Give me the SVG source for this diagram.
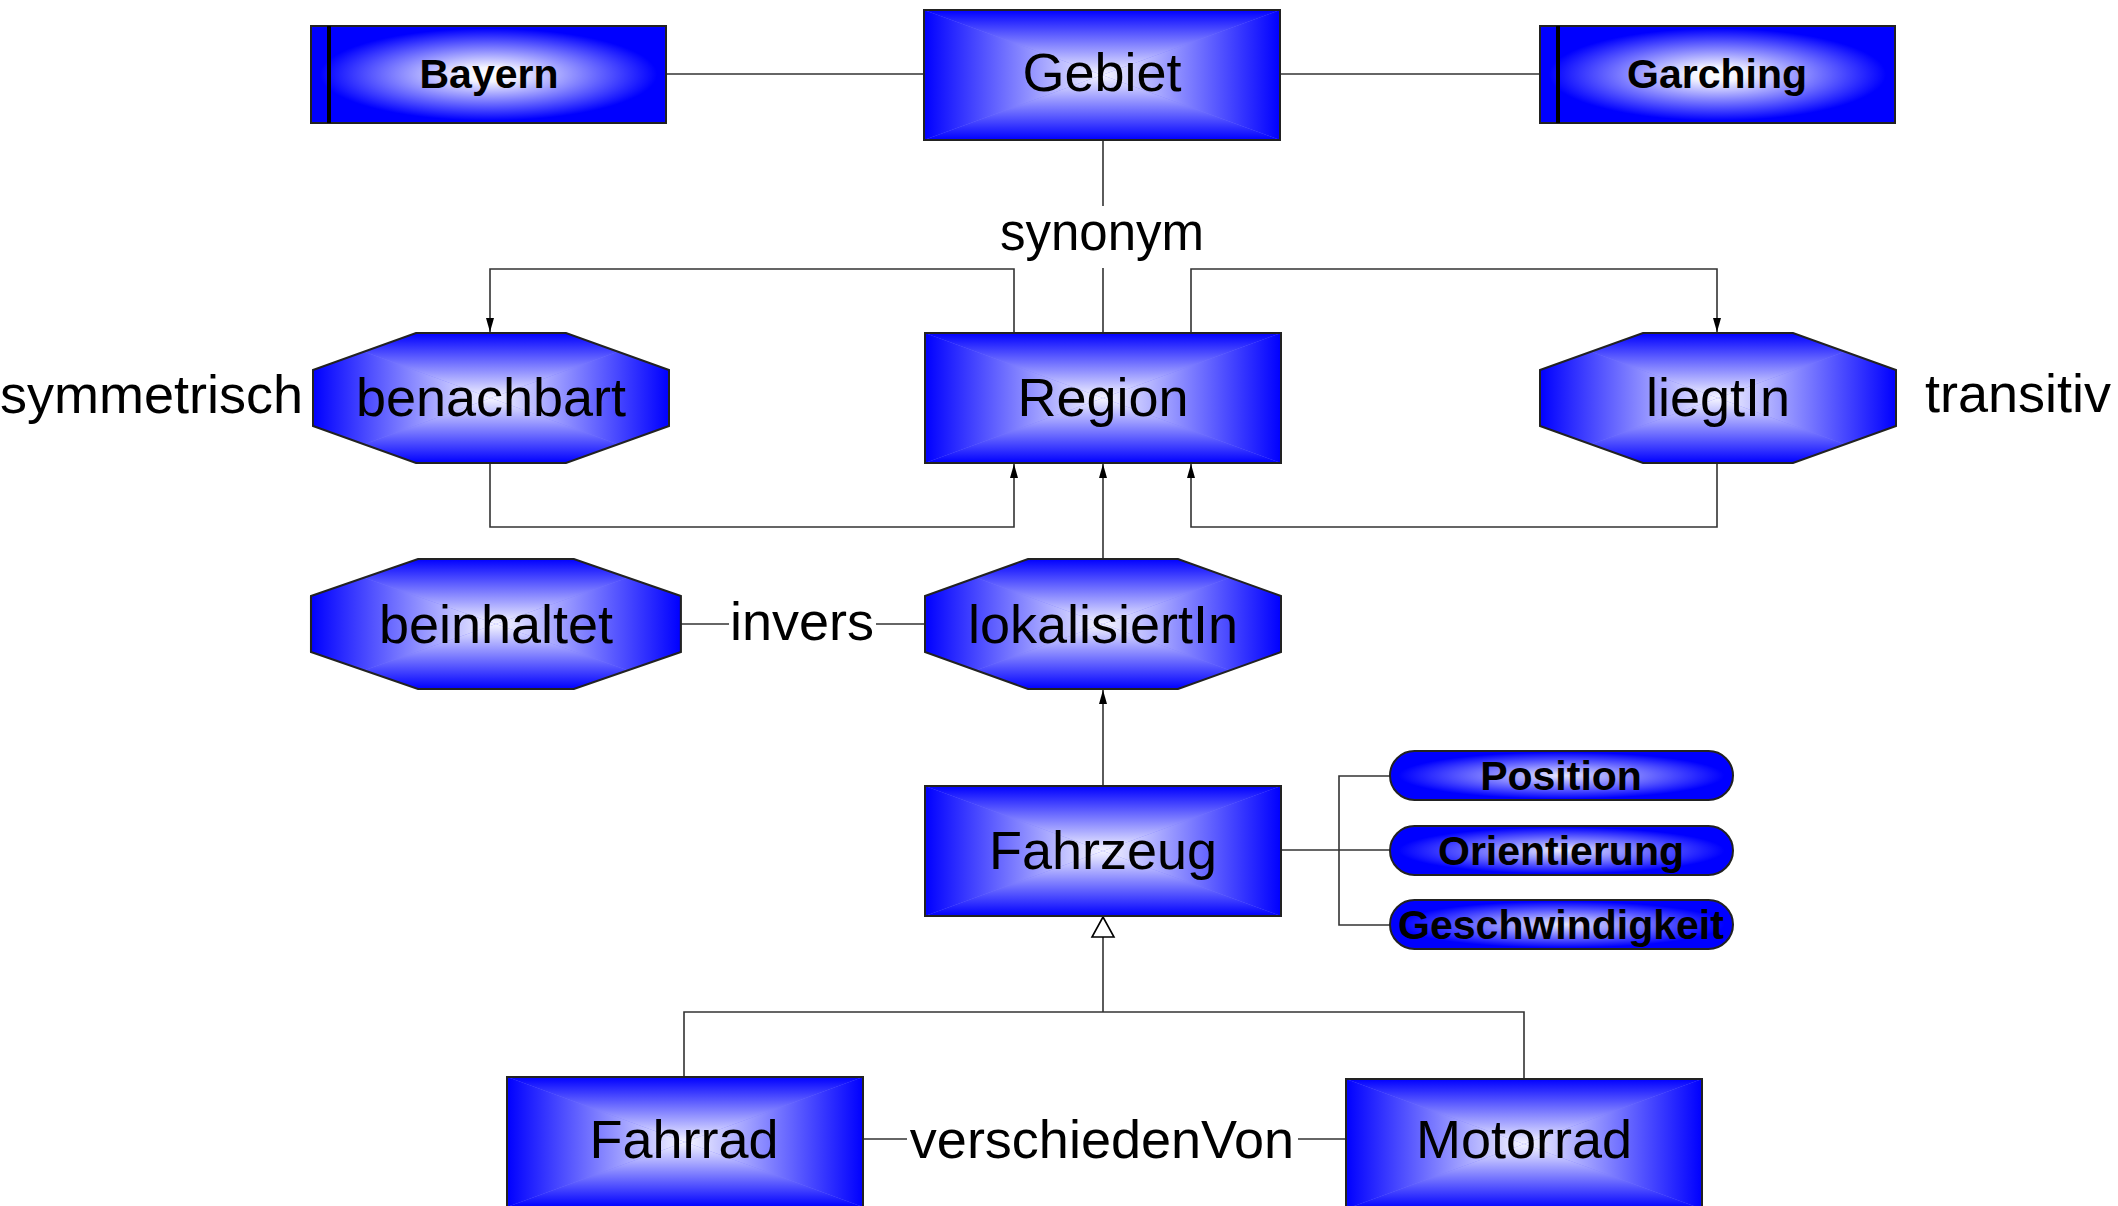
<svg xmlns="http://www.w3.org/2000/svg" xmlns:xlink="http://www.w3.org/1999/xlink" width="2118" height="1206" viewBox="0 0 2118 1206">
<style>
.t{font-family:"Liberation Sans",Arial,sans-serif;font-size:54px;fill:#000;text-anchor:middle}
.b{font-weight:bold;font-size:41px}
.s{text-anchor:start}
.c{fill:none;stroke:#333;stroke-width:1.6}
.ed{fill:none;stroke:#222;stroke-width:2}
</style>
<defs>
<linearGradient id="gT" x1="0" y1="0" x2="0" y2="1"><stop offset="0" stop-color="#0000FF"/><stop offset="1" stop-color="#F6F6FF"/></linearGradient>
<linearGradient id="gB" x1="0" y1="1" x2="0" y2="0"><stop offset="0" stop-color="#0000FF"/><stop offset="1" stop-color="#F6F6FF"/></linearGradient>
<linearGradient id="gL" x1="0" y1="0" x2="1" y2="0"><stop offset="0" stop-color="#0000FF"/><stop offset="1" stop-color="#F6F6FF"/></linearGradient>
<linearGradient id="gR" x1="1" y1="0" x2="0" y2="0"><stop offset="0" stop-color="#0000FF"/><stop offset="1" stop-color="#F6F6FF"/></linearGradient>
<radialGradient id="gInst" cx="0.5" cy="0.5" r="0.5"><stop offset="0" stop-color="#FFFFFF"/><stop offset="0.15" stop-color="#F4F4FF"/><stop offset="0.95" stop-color="#0000FF"/></radialGradient>
<radialGradient id="gPill" cx="0.5" cy="0.5" r="0.5"><stop offset="0" stop-color="#E8E8FF"/><stop offset="0.95" stop-color="#0000FF"/></radialGradient>
<g id="pyr">
<rect width="356" height="130" fill="#7878FF"/>
<polygon points="0,0 356,0 178,65" fill="url(#gT)"/>
<polygon points="0,130 356,130 178,65" fill="url(#gB)"/>
<polygon points="0,0 0,130 178,65" fill="url(#gL)"/>
<polygon points="356,0 356,130 178,65" fill="url(#gR)"/>
</g>
<clipPath id="octClip"><polygon points="103,0 253,0 356,37 356,93 253,130 103,130 0,93 0,37"/></clipPath>
<g id="box"><use xlink:href="#pyr"/><rect class="ed" width="356" height="130"/></g>
<g id="oct"><g clip-path="url(#octClip)"><use xlink:href="#pyr"/></g><polygon class="ed" points="103,0 253,0 356,37 356,93 253,130 103,130 0,93 0,37"/></g>
<g id="inst"><rect width="355" height="97" fill="url(#gInst)" stroke="#222" stroke-width="2"/><line x1="18" y1="0" x2="18" y2="97" stroke="#000" stroke-width="4"/></g>
<rect id="pill" width="343" height="49" rx="24.5" fill="url(#gPill)" stroke="#222" stroke-width="2"/>
<marker id="arr" viewBox="0 0 14 8" refX="14" refY="4" markerWidth="14" markerHeight="8" markerUnits="userSpaceOnUse" orient="auto"><path d="M0,0 L14,4 L0,8 z" fill="#000"/></marker>
</defs>

<g id="connectors">
<line class="c" x1="667" y1="74" x2="924" y2="74"/>
<line class="c" x1="1281" y1="74" x2="1540" y2="74"/>
<line class="c" x1="1103" y1="140" x2="1103" y2="206"/>
<line class="c" x1="1103" y1="268" x2="1103" y2="333"/>
<polyline class="c" points="1014,333 1014,269 490,269 490,332" marker-end="url(#arr)"/>
<polyline class="c" points="1191,333 1191,269 1717,269 1717,332" marker-end="url(#arr)"/>
<polyline class="c" points="490,463 490,527 1014,527 1014,464" marker-end="url(#arr)"/>
<polyline class="c" points="1717,463 1717,527 1191,527 1191,464" marker-end="url(#arr)"/>
<line class="c" x1="1103" y1="559" x2="1103" y2="464" marker-end="url(#arr)"/>
<line class="c" x1="681" y1="624" x2="729" y2="624"/>
<line class="c" x1="876" y1="624" x2="925" y2="624"/>
<line class="c" x1="1103" y1="786" x2="1103" y2="690" marker-end="url(#arr)"/>
<line class="c" x1="1281" y1="850" x2="1390" y2="850"/>
<polyline class="c" points="1390,776 1339,776 1339,925 1390,925"/>
<polyline class="c" points="684,1077 684,1012 1524,1012 1524,1079"/>
<line class="c" x1="1103" y1="1012" x2="1103" y2="937"/>
<polygon points="1103,917 1092,937 1114,937" fill="#fff" stroke="#000" stroke-width="1.6"/>
<line class="c" x1="861" y1="1139" x2="907" y2="1139"/>
<line class="c" x1="1298" y1="1139" x2="1347" y2="1139"/>
</g>

<g id="n-bayern"><use xlink:href="#inst" x="311" y="26"/><text class="t b" x="489" y="88">Bayern</text></g>
<g id="n-gebiet"><use xlink:href="#box" x="924" y="10"/><text class="t" x="1102" y="91">Gebiet</text></g>
<g id="n-garching"><use xlink:href="#inst" x="1540" y="26"/><text class="t b" x="1717" y="88">Garching</text></g>
<g id="l-synonym"><text class="t" x="1102" y="250" style="font-size:51px">synonym</text></g>
<g id="n-benachbart"><use xlink:href="#oct" x="313" y="333"/><text class="t" x="491" y="416">benachbart</text></g>
<g id="l-symmetrisch"><text class="t s" x="0" y="413">symmetrisch</text></g>
<g id="n-region"><use xlink:href="#box" x="925" y="333"/><text class="t" x="1103" y="416">Region</text></g>
<g id="n-liegtin"><use xlink:href="#oct" x="1540" y="333"/><text class="t" x="1718" y="416">liegtIn</text></g>
<g id="l-transitiv"><text class="t s" x="1925" y="412">transitiv</text></g>
<g id="n-beinhaltet"><use xlink:href="#oct" transform="translate(311,559) scale(1.039,1)"/><text class="t" x="496" y="643">beinhaltet</text></g>
<g id="l-invers"><text class="t" x="802" y="640">invers</text></g>
<g id="n-lokalisiertin"><use xlink:href="#oct" x="925" y="559"/><text class="t" x="1103" y="643">lokalisiertIn</text></g>
<g id="n-fahrzeug"><use xlink:href="#box" x="925" y="786"/><text class="t" x="1103" y="869">Fahrzeug</text></g>
<g id="n-position"><use xlink:href="#pill" x="1390" y="751"/><text class="t b" x="1561" y="790">Position</text></g>
<g id="n-orientierung"><use xlink:href="#pill" x="1390" y="826"/><text class="t b" x="1561" y="865">Orientierung</text></g>
<g id="n-geschwindigkeit"><use xlink:href="#pill" x="1390" y="900"/><text class="t b" x="1561" y="939">Geschwindigkeit</text></g>
<g id="n-fahrrad"><use xlink:href="#box" x="507" y="1077"/><text class="t" x="684" y="1158">Fahrrad</text></g>
<g id="l-verschiedenvon"><text class="t" x="1102" y="1158">verschiedenVon</text></g>
<g id="n-motorrad"><use xlink:href="#box" x="1346" y="1079"/><text class="t" x="1524" y="1158">Motorrad</text></g>
</svg>
